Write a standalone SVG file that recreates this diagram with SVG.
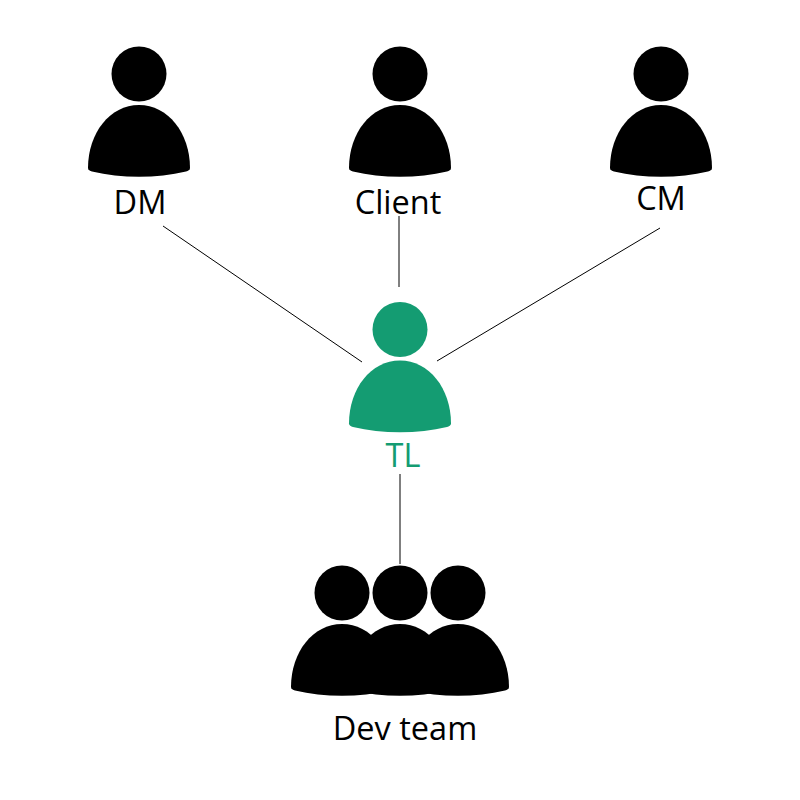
<svg xmlns="http://www.w3.org/2000/svg" width="800" height="800" viewBox="0 0 800 800">
<style>
.l{fill:none;stroke:#000;stroke-width:1}
.t{font-family:"Open Sans","Noto Sans",sans-serif;font-size:32.5px;text-anchor:middle;fill:#000}
</style>
<defs>
<g id="person"><circle cx="0" cy="-94" r="27.5"/><path d="M-51 0C-51 -35 -29 -63 0 -63C29 -63 51 -35 51 0C51 2 49 3 47 3.500C18 10.500 -18 10.500 -47 3.500C-49 3 -51 2 -51 0Z"/></g>
</defs>
<rect width="800" height="800" fill="#fff"/>
<g id="connectors">
<line class="l" x1="163" y1="226" x2="362" y2="362"/>
<line class="l" x1="399" y1="216" x2="399" y2="287"/>
<line class="l" x1="660" y1="228" x2="437" y2="361"/>
<line class="l" x1="400" y1="474" x2="400" y2="564"/>
</g>
<g id="dm"><use href="#person" x="139" y="168"/><text class="t" x="140" y="214">DM</text></g>
<g id="client"><use href="#person" x="400" y="168"/><text class="t" x="398" y="214">Client</text></g>
<g id="cm"><use href="#person" x="661" y="168"/><text class="t" x="661" y="210">CM</text></g>
<g id="tl" fill="#149c72"><use href="#person" x="400" y="423.500"/><text class="t" x="403" y="467" style="fill:#149c72">TL</text></g>
<g id="dev-team"><use href="#person" x="342" y="687"/><use href="#person" x="458" y="687"/><use href="#person" x="400" y="687"/><text class="t" x="405" y="740">Dev team</text></g>
</svg>
